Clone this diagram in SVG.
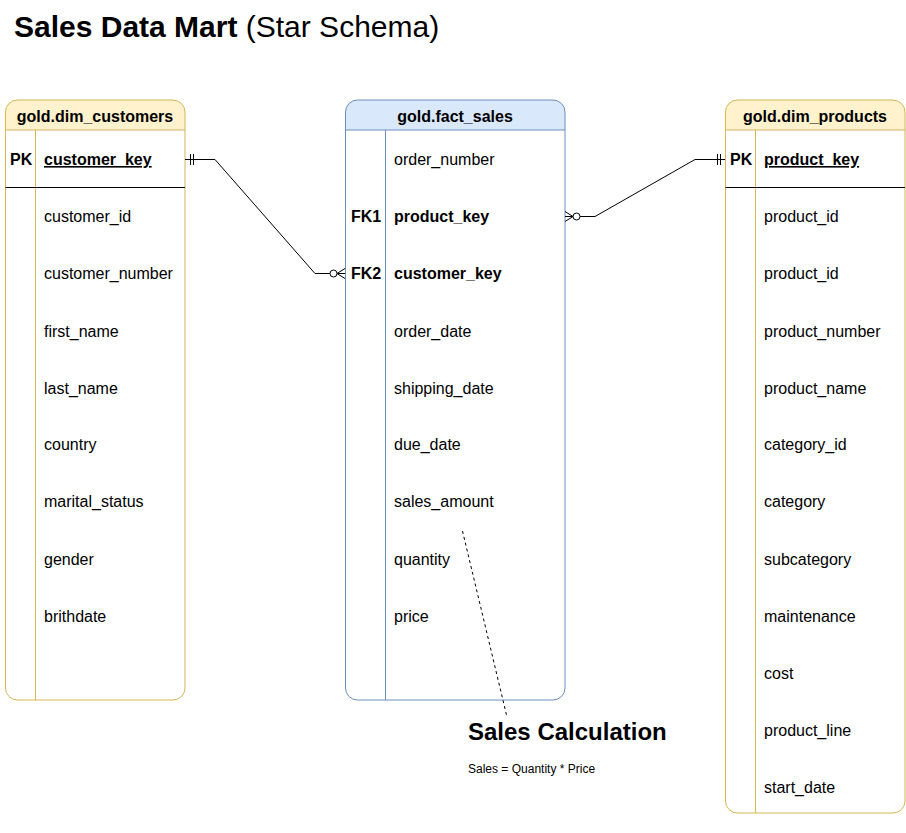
<svg xmlns="http://www.w3.org/2000/svg" width="906" height="833" viewBox="0 0 906 833">
<style>
text{font-family:"Liberation Sans",Arial,sans-serif;fill:#000}
.t{font-size:16px}
.b{font-size:16px;font-weight:bold}
.h{font-size:16px;font-weight:bold;text-anchor:middle}
.u{text-decoration:underline}
.yb{fill:#ffffff;stroke:#d6b656;stroke-width:1}
.yh{fill:#fff2cc;stroke:#d6b656;stroke-width:1}
.bb{fill:#ffffff;stroke:#6c8ebf;stroke-width:1}
.bh{fill:#dae8fc;stroke:#6c8ebf;stroke-width:1}
.ln{stroke:#000;stroke-width:1;fill:none}
.mk{stroke:#000;stroke-width:1;fill:#fff}
</style>
<rect width="906" height="833" fill="#fff"/>
<text x="14" y="37" font-size="30px"><tspan font-weight="bold">Sales Data Mart</tspan> (Star Schema)</text>

<g id="dim_customers">
<path class="yb" d="M5.5 130 V688 a12 12 0 0 0 12 12 H173 a12 12 0 0 0 12 -12 V130"/>
<path class="yh" d="M5.5 130 V112 a12 12 0 0 1 12 -12 H173 a12 12 0 0 1 12 12 V130 Z"/>
<line x1="35.5" y1="130" x2="35.5" y2="700" stroke="#d6b656"/>
<line x1="5.5" y1="187.5" x2="185" y2="187.5" stroke="#000"/>
<text class="h" x="95" y="122">gold.dim_customers</text>
<text class="b" x="10" y="165">PK</text>
<text class="b u" x="44" y="165">customer_key</text>
<text class="t" x="44" y="222">customer_id</text>
<text class="t" x="44" y="279">customer_number</text>
<text class="t" x="44" y="337">first_name</text>
<text class="t" x="44" y="394">last_name</text>
<text class="t" x="44" y="450">country</text>
<text class="t" x="44" y="507">marital_status</text>
<text class="t" x="44" y="565">gender</text>
<text class="t" x="44" y="622">brithdate</text>
</g>

<g id="fact_sales">
<path class="bb" d="M345.5 130 V688 a12 12 0 0 0 12 12 H553 a12 12 0 0 0 12 -12 V130"/>
<path class="bh" d="M345.5 130 V112 a12 12 0 0 1 12 -12 H553 a12 12 0 0 1 12 12 V130 Z"/>
<line x1="385.5" y1="130" x2="385.5" y2="700" stroke="#6c8ebf"/>
<text class="h" x="455" y="122">gold.fact_sales</text>
<text class="t" x="394" y="165">order_number</text>
<text class="b" x="351" y="222">FK1</text>
<text class="b" x="394" y="222">product_key</text>
<text class="b" x="351" y="279">FK2</text>
<text class="b" x="394" y="279">customer_key</text>
<text class="t" x="394" y="337">order_date</text>
<text class="t" x="394" y="394">shipping_date</text>
<text class="t" x="394" y="450">due_date</text>
<text class="t" x="394" y="507">sales_amount</text>
<text class="t" x="394" y="565">quantity</text>
<text class="t" x="394" y="622">price</text>
</g>

<g id="dim_products">
<path class="yb" d="M725.5 130 V801 a12 12 0 0 0 12 12 H893 a12 12 0 0 0 12 -12 V130"/>
<path class="yh" d="M725.5 130 V112 a12 12 0 0 1 12 -12 H893 a12 12 0 0 1 12 12 V130 Z"/>
<line x1="755.5" y1="130" x2="755.5" y2="813" stroke="#d6b656"/>
<line x1="725.5" y1="187.5" x2="905" y2="187.5" stroke="#000"/>
<text class="h" x="815" y="122">gold.dim_products</text>
<text class="b" x="730" y="165">PK</text>
<text class="b u" x="764" y="165">product_key</text>
<text class="t" x="764" y="222">product_id</text>
<text class="t" x="764" y="279">product_id</text>
<text class="t" x="764" y="337">product_number</text>
<text class="t" x="764" y="394">product_name</text>
<text class="t" x="764" y="450">category_id</text>
<text class="t" x="764" y="507">category</text>
<text class="t" x="764" y="565">subcategory</text>
<text class="t" x="764" y="622">maintenance</text>
<text class="t" x="764" y="679">cost</text>
<text class="t" x="764" y="736">product_line</text>
<text class="t" x="764" y="793">start_date</text>
</g>

<g id="connectors">
<polyline class="ln" points="185,159.5 215,159.5 315,273.5 345,273.5"/>
<line class="ln" x1="190.5" y1="154" x2="190.5" y2="165"/>
<line class="ln" x1="193.5" y1="154" x2="193.5" y2="165"/>
<circle class="mk" cx="333.5" cy="273.5" r="3.5"/>
<polyline class="ln" points="345,268.5 337,273.5 345,278.5"/>

<polyline class="ln" points="725,159.5 695,159.5 595,216.5 565,216.5"/>
<line class="ln" x1="717.5" y1="154" x2="717.5" y2="165"/>
<line class="ln" x1="720.5" y1="154" x2="720.5" y2="165"/>
<circle class="mk" cx="576.5" cy="216.5" r="3.5"/>
<polyline class="ln" points="565,211.5 573,216.5 565,221.5"/>

<line x1="462.5" y1="531" x2="506.5" y2="715" stroke="#000" stroke-width="1" stroke-dasharray="3 3"/>
</g>

<g id="note">
<text x="468" y="740" font-size="24px" font-weight="bold">Sales Calculation</text>
<text x="468" y="773" font-size="12px">Sales = Quantity * Price</text>
</g>
</svg>
